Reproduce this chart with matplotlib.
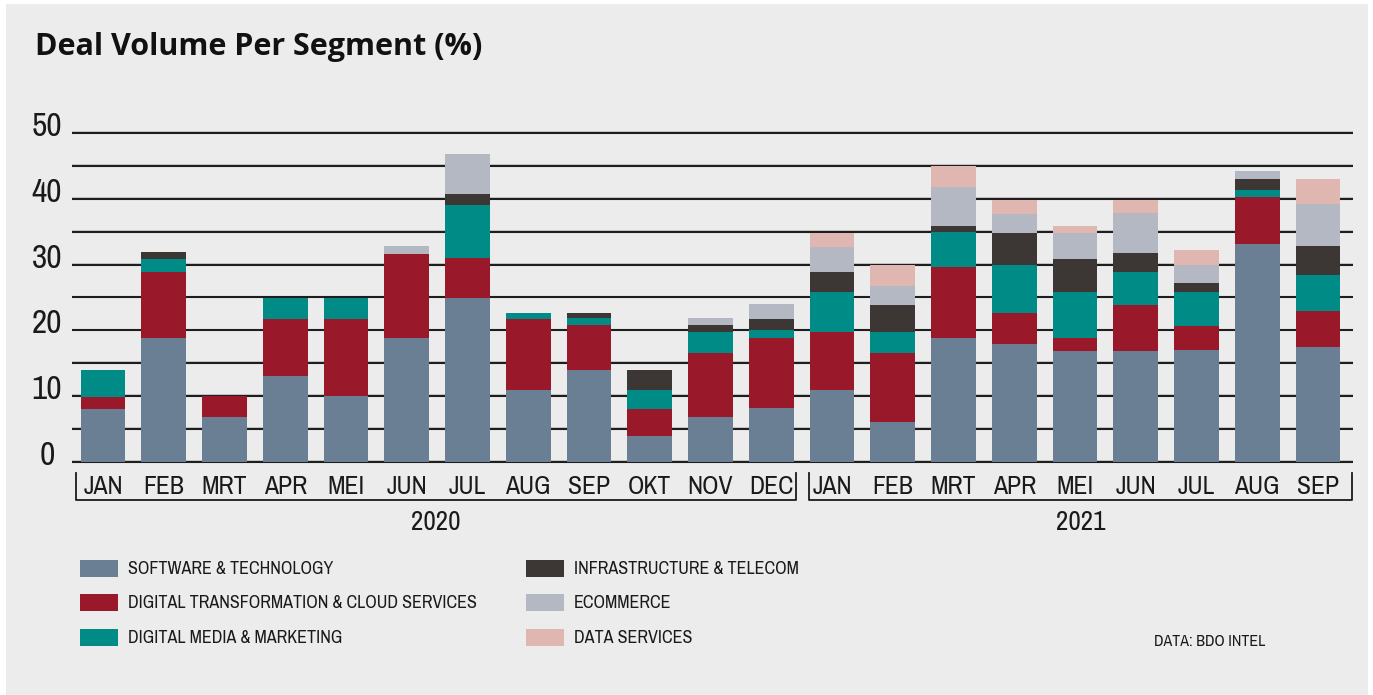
import numpy as np
import matplotlib
matplotlib.use("Agg")
import matplotlib.pyplot as plt
from matplotlib import font_manager as fm
from matplotlib.patches import Rectangle
from matplotlib.lines import Line2D
import matplotlib.transforms as mtrans

# ---------------- data ----------------
months_2020 = ['JAN', 'FEB', 'MRT', 'APR', 'MEI', 'JUN', 'JUL', 'AUG', 'SEP', 'OKT', 'NOV', 'DEC']
months_2021 = ['JAN', 'FEB', 'MRT', 'APR', 'MEI', 'JUN', 'JUL', 'AUG', 'SEP']
years = ['2020', '2021']

software = [8.0, 18.9, 6.75, 13.0, 9.95, 18.9, 24.9, 10.9, 13.9, 3.9, 6.75, 8.1,
            10.9, 6.0, 18.9, 17.9, 16.8, 16.8, 16.95, 33.1, 17.4]
digital_transformation = [1.9, 9.9, 3.3, 8.7, 11.75, 12.7, 6.1, 10.8, 6.9, 4.1, 9.85, 10.7,
                          8.9, 10.6, 10.8, 4.7, 2.0, 7.0, 3.65, 7.15, 5.6]
digital_media = [4.0, 2.0, 0, 3.2, 3.2, 0, 8.0, 1.0, 1.0, 2.9, 3.1, 1.2,
                 6.0, 3.2, 5.2, 7.3, 7.0, 5.0, 5.3, 1.05, 5.4]
infrastructure = [0, 1.1, 0, 0, 0, 0, 1.7, 0, 0.9, 3.0, 1.1, 1.7,
                  3.0, 4.0, 0.9, 4.9, 5.0, 2.9, 1.3, 1.7, 4.5]
ecommerce = [0, 0, 0, 0, 0, 1.2, 6.1, 0, 0, 0, 1.0, 2.3,
             3.9, 2.9, 6.0, 2.9, 4.0, 6.1, 2.7, 1.2, 6.3]
data_services = [0, 0, 0, 0, 0, 0, 0, 0, 0, 0, 0, 0,
                 2.1, 3.2, 3.2, 2.2, 1.0, 2.1, 2.3, 0, 3.8]

segment_names = ['SOFTWARE & TECHNOLOGY', 'DIGITAL TRANSFORMATION & CLOUD SERVICES',
                 'DIGITAL MEDIA & MARKETING', 'INFRASTRUCTURE & TELECOM',
                 'ECOMMERCE', 'DATA SERVICES']
segment_values = [software, digital_transformation, digital_media,
                  infrastructure, ecommerce, data_services]
segment_colors = ['#6a7e94', '#99182a', '#008b87', '#3c3634', '#b4b8c3', '#dfb7b0']

title = 'Deal Volume Per Segment (%)'
source = 'DATA: BDO INTEL'
yticks = [0, 10, 20, 30, 40, 50]

# ---------------- fonts ----------------
def find_condensed():
    entries = fm.fontManager.ttflist
    def ok_weight(f):
        w = f.weight
        if isinstance(w, str):
            return w in ('normal', 'regular', 'book', 'medium')
        return 350 <= w <= 500
    def ok_style(f):
        return f.style == 'normal'
    prefs = [
        lambda f: 'Narrow' in f.name or 'narrow' in f.fname.lower(),
        lambda f: ('Condensed' in f.fname and 'Semi' not in f.fname and 'Extra' not in f.fname
                   and 'Ultra' not in f.fname),
    ]
    for p in prefs:
        cands = [f for f in entries if p(f) and ok_weight(f) and ok_style(f)]
        if cands:
            cands.sort(key=lambda f: (0 if any(k in f.name for k in ('Liberation', 'Roboto', 'Open Sans', 'Noto Sans', 'DejaVu')) else 1, f.fname))
            return fm.FontProperties(fname=cands[0].fname)
    return fm.FontProperties(family='DejaVu Sans')

COND = find_condensed()
names = {f.name for f in fm.fontManager.ttflist}
title_family = 'Open Sans' if 'Open Sans' in names else 'DejaVu Sans'

def cfont(size):
    p = COND.copy()
    p.set_size(size)
    return p

# ---------------- figure ----------------
W, H = 1373, 695
fig = plt.figure(figsize=(W / 100, H / 100), dpi=100)
fig.patch.set_facecolor('white')
BG = '#ececec'
fig.add_artist(Rectangle((6 / W, 0), (1368 - 6) / W, (H - 4) / H,
                         transform=fig.transFigure, facecolor=BG, edgecolor='none', zorder=-10))

def fy(py):
    return 1 - py / H

ppu = 6.57
y0px = 461.7
ylo, yhi = -0.5, 51.0
ax_bottom_px = y0px - ylo * ppu
ax_top_px = y0px - yhi * ppu
x0px, step = 103.0, 60.75
ax_left_px, ax_right_px = 72.0, 1353.0
xlo = (ax_left_px - x0px) / step
xhi = (ax_right_px - x0px) / step

ax = fig.add_axes([ax_left_px / W, fy(ax_bottom_px), (ax_right_px - ax_left_px) / W,
                   (ax_bottom_px - ax_top_px) / H])
ax.set_facecolor('none')
ax.set_xlim(xlo, xhi)
ax.set_ylim(ylo, yhi)
for s in ax.spines.values():
    s.set_visible(False)
ax.set_xticks([])
ax.set_yticks([])

for g in np.arange(0, 51, 5):
    ax.axhline(g + 0.12, color='#c4c4c4', lw=1.2, zorder=0)
    ax.axhline(g, color='#1e1e1e', lw=1.5, zorder=1)

months = months_2020 + months_2021
x = np.arange(len(months))
bottom = np.zeros(len(months))
for vals, col, name in zip(segment_values, segment_colors, segment_names):
    v = np.array(vals, dtype=float)
    ax.bar(x, v, bottom=bottom, width=0.74, color=col, linewidth=0, zorder=2, label=name)
    bottom += v

tr_y = mtrans.blended_transform_factory(fig.transFigure, ax.transData)
for t in yticks:
    ax.text(47 / W, t - 0.45, str(t), transform=tr_y, ha='center', va='baseline',
            fontproperties=cfont(24), color='#1a1a1a')

tr_x = mtrans.blended_transform_factory(ax.transData, fig.transFigure)
for i, m in enumerate(months):
    ax.text(i, fy(486), m, transform=tr_x, ha='center', va='center',
            fontproperties=cfont(18.5), color='#1a1a1a', clip_on=False)

brackets = [(-0.45, 11.4), (11.62, 20.56)]
for (a, b), yr in zip(brackets, years):
    xs = [a, a, b, b]
    ys = [fy(473), fy(500), fy(500), fy(473)]
    fig.add_artist(Line2D(xs, ys, transform=tr_x, color='#1a1a1a', lw=1.3))
    ax.text((a + b) / 2, fy(522), yr, transform=tr_x, ha='center', va='center',
            fontproperties=cfont(19.5), color='#1a1a1a', clip_on=False)

leg_pos = [(80, 568), (80, 602), (80, 637), (526, 568), (526, 602), (526, 637)]
for (lx, ly), name, col in zip(leg_pos, segment_names, segment_colors):
    fig.add_artist(Rectangle((lx / W, fy(ly + 8.5)), 38 / W, 17 / H,
                             transform=fig.transFigure, facecolor=col, edgecolor='none'))
    fig.text((lx + 48) / W, fy(ly + 1), name, ha='left', va='center',
             fontproperties=cfont(13), color='#1a1a1a')

fig.text(35 / W, fy(47), title, ha='left', va='center', fontsize=22,
         fontweight='bold', color='#111111', family=title_family)
fig.text(1154 / W, fy(642), source, ha='left', va='center',
         fontproperties=cfont(11.5), color='#1a1a1a')

fig.savefig('out.png', dpi=100, facecolor=fig.get_facecolor())
